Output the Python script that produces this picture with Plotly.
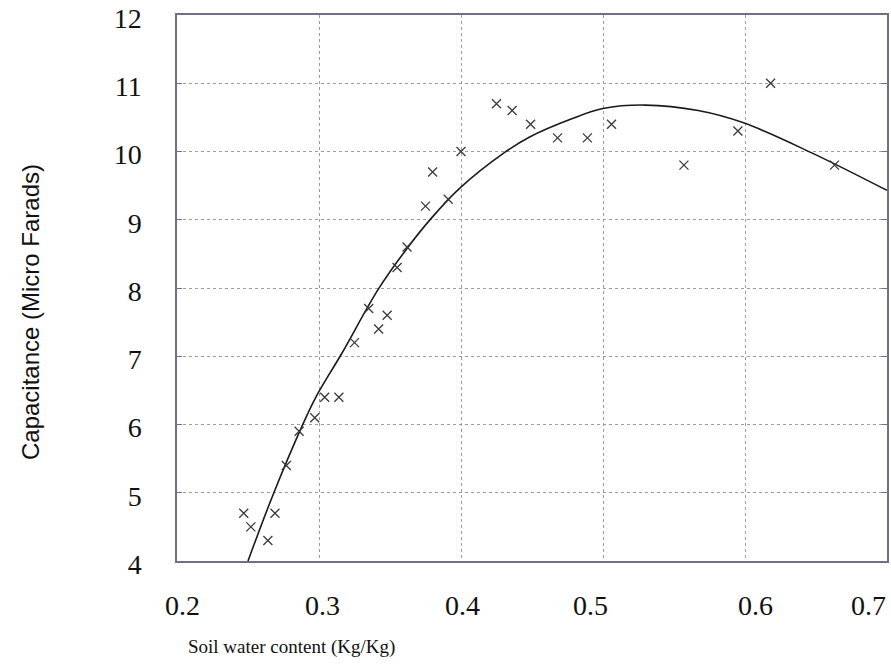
import plotly.graph_objects as go

# Measured points
water = [0.247, 0.252, 0.264, 0.269, 0.277, 0.286, 0.297, 0.304, 0.314, 0.325,
         0.335, 0.342, 0.348, 0.355, 0.362, 0.375, 0.380, 0.391, 0.400, 0.425,
         0.436, 0.449, 0.468, 0.489, 0.506, 0.557, 0.595, 0.618, 0.663]
capacitance = [4.7, 4.5, 4.3, 4.7, 5.4, 5.9, 6.1, 6.4, 6.4, 7.2,
               7.7, 7.4, 7.6, 8.3, 8.6, 9.2, 9.7, 9.3, 10.0, 10.7,
               10.6, 10.4, 10.2, 10.2, 10.4, 9.8, 10.3, 11.0, 9.8]

# Fitted curve
fit_x = [0.250, 0.268, 0.289, 0.298, 0.316, 0.342, 0.362, 0.379, 0.399, 0.431,
         0.448, 0.478, 0.500, 0.530, 0.567, 0.599, 0.647, 0.700]
fit_y = [4.00, 4.99, 6.02, 6.41, 7.04, 7.99, 8.58, 9.02, 9.46, 9.99,
         10.21, 10.48, 10.63, 10.68, 10.60, 10.42, 9.98, 9.43]

x_ticks = [0.2, 0.3, 0.4, 0.5, 0.6, 0.7]
x_tick_text = ["0.2", "0.3", "0.4", "0.5", "0.6", "0.7"]
x_label_nudge = [5, 3, 1, -13, 10, -19]   # pixel offsets of the scanned labels
y_ticks = [4, 5, 6, 7, 8, 9, 10, 11, 12]

fig = go.Figure()
fig.add_trace(go.Scatter(
    x=fit_x, y=fit_y, mode="lines", line=dict(color="#1a1a1a", width=1.6, shape="spline"),
    showlegend=False, hoverinfo="skip"))
fig.add_trace(go.Scatter(
    x=water, y=capacitance, mode="markers",
    marker=dict(symbol="x-thin-open", size=9, color="#3a3a3a",
                line=dict(color="#3a3a3a", width=1.3)),
    showlegend=False))

serif = "Liberation Serif, Times New Roman, serif"
fig.update_layout(
    template="none",
    width=891, height=669,
    margin=dict(l=177, r=4, t=15, b=108),
    paper_bgcolor="white", plot_bgcolor="white",
    showlegend=False,
    font=dict(family=serif, color="#111"),
)
fig.update_xaxes(
    range=[0.2, 0.7], tickvals=x_ticks, showticklabels=False,
    showgrid=True, gridcolor="#9a9aa6", griddash="dot", gridwidth=1,
    showline=True, linecolor="#6f7088", linewidth=1.5, mirror=True,
    ticks="", zeroline=False, automargin=False,
)
fig.update_yaxes(
    range=[4, 12], tickvals=y_ticks,
    showgrid=True, gridcolor="#9a9aa6", griddash="dot", gridwidth=1,
    showline=True, linecolor="#6f7088", linewidth=1.5, mirror="ticks",
    ticks="inside", ticklen=5, tickcolor="#6f7088",
    zeroline=False, automargin=False,
    tickfont=dict(family=serif, size=28, color="#111"),
    ticklabelstandoff=28, ticklabelshift=3, ticklabeloverflow="allow",
)
for xv, txt, dx in zip(x_ticks, x_tick_text, x_label_nudge):
    fig.add_annotation(
        text=txt, xref="x", yref="paper", x=xv, y=0, xshift=dx, yshift=-44,
        xanchor="center", yanchor="middle", showarrow=False,
        font=dict(family=serif, size=28, color="#111"))
fig.add_annotation(
    text="Capacitance (Micro Farads)", textangle=-90,
    xref="paper", yref="paper", x=-0.207, y=0.456,
    xanchor="center", yanchor="middle", showarrow=False,
    font=dict(family="Liberation Sans, Arial, sans-serif", size=24, color="#111"))
fig.add_annotation(
    text="Soil water content (Kg/Kg)",
    xref="paper", yref="paper", x=0.1606, y=-0.1575,
    xanchor="center", yanchor="middle", showarrow=False,
    font=dict(family=serif, size=19, color="#111"))

fig.write_html(
    "out.html",
    config={"displayModeBar": False},
    post_script="document.body.style.margin='0';document.body.style.overflow='hidden';",
)
